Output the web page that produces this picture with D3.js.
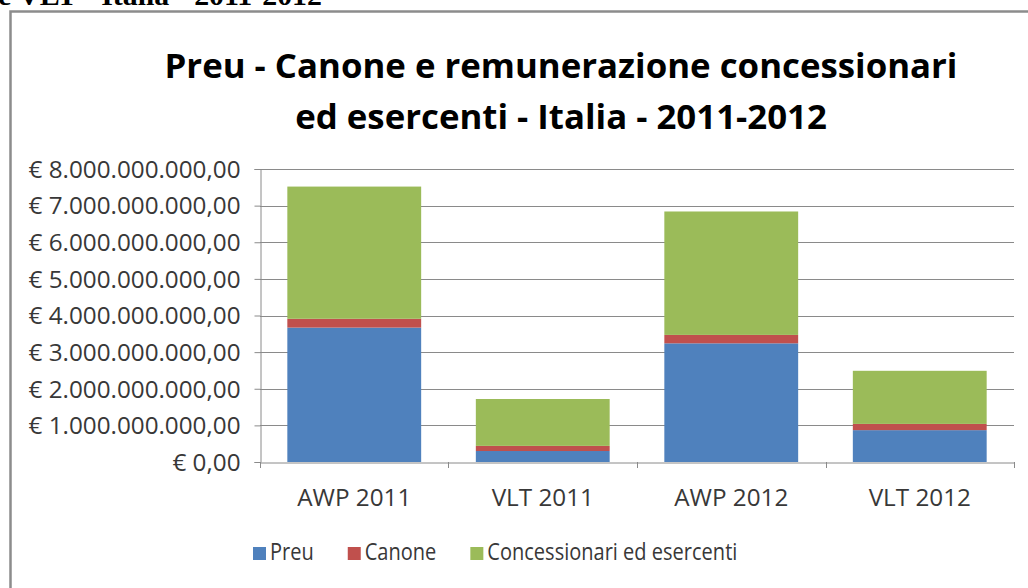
<!DOCTYPE html>
<html>
<head>
<meta charset="utf-8">
<script src="https://cdn.jsdelivr.net/npm/d3@7"></script>
<style>
  html, body { margin: 0; padding: 0; background: #fff; }
  svg { display: block; }
</style>
</head>
<body>
<div id="chart"></div>
<script>
// Stacked columns: Preu, canone and remuneration of concessionaires and operators
const categories = ["AWP 2011", "VLT 2011", "AWP 2012", "VLT 2012"];
const seriesNames = ["Preu", "Canone", "Concessionari ed esercenti"];
const preu = [3.67e9, 0.30e9, 3.24e9, 0.87e9];
const canone = [0.24e9, 0.14e9, 0.23e9, 0.17e9];
const concessionari = [3.61e9, 1.28e9, 3.37e9, 1.45e9];
const yTicks = [0, 1e9, 2e9, 3e9, 4e9, 5e9, 6e9, 7e9, 8e9];
const titleLines = ["Preu - Canone e remunerazione concessionari", "ed esercenti - Italia - 2011-2012"];
const headerText = "e VLT - Italia - 2011-2012";
const colors = ["#4F81BD", "#C0504D", "#9BBB59"];

const W = 1028, H = 588;
const plot = { left: 260, right: 1014, top: 169, bottom: 462 };
const uiFont = "'Open Sans', 'Noto Sans', sans-serif";

const svg = d3.select("#chart").append("svg")
  .attr("width", W).attr("height", H);

svg.append("rect").attr("width", W).attr("height", H).attr("fill", "#fff");

// Document heading above the chart object, clipped at the top edge
svg.append("text")
  .attr("x", -2).attr("y", 5)
  .attr("font-family", "'Liberation Serif', 'DejaVu Serif', serif")
  .attr("font-weight", "bold").attr("font-size", 27)
  .attr("fill", "#000")
  .attr("textLength", 324).attr("lengthAdjust", "spacingAndGlyphs")
  .text(headerText);

// Chart area frame
svg.append("rect")
  .attr("x", 10.5).attr("y", 11.5)
  .attr("width", W + 20).attr("height", H + 20)
  .attr("fill", "#fff").attr("stroke", "#8c8c8c").attr("stroke-width", 2.5);

// Scales
const x = d3.scaleBand().domain(categories)
  .range([plot.left, plot.right])
  .paddingInner(0.29).paddingOuter(0.145);
const y = d3.scaleLinear().domain([0, 8e9]).range([plot.bottom, plot.top]);

const it = d3.formatLocale({ decimal: ",", thousands: ".", grouping: [3], currency: ["€ ", ""] });
const fmt = it.format("$,.2f");

// Horizontal squeeze so the fallback face occupies the same width as the narrow original face
function squeeze(sel, k) {
  sel.each(function () {
    const len = this.getComputedTextLength();
    d3.select(this).attr("textLength", len * k).attr("lengthAdjust", "spacingAndGlyphs");
  });
}

// Gridlines
svg.append("g").selectAll("line").data(yTicks.slice(1)).join("line")
  .attr("x1", plot.left).attr("x2", plot.right)
  .attr("y1", d => Math.round(y(d)) + 0.5).attr("y2", d => Math.round(y(d)) + 0.5)
  .attr("stroke", "#8a8a8a").attr("stroke-width", 1);

// Stacked bars
const table = categories.map((c, i) => ({
  cat: c,
  [seriesNames[0]]: preu[i],
  [seriesNames[1]]: canone[i],
  [seriesNames[2]]: concessionari[i]
}));
const stacked = d3.stack().keys(seriesNames)(table);

svg.append("g").selectAll("g").data(stacked).join("g")
  .attr("fill", (d, i) => colors[i])
  .selectAll("rect").data(d => d).join("rect")
  .attr("x", d => x(d.data.cat))
  .attr("width", x.bandwidth())
  .attr("y", d => y(d[1]))
  .attr("height", d => y(d[0]) - y(d[1]));

// Y axis
const yAxis = svg.append("g")
  .attr("transform", `translate(${plot.left + 0.5},0)`)
  .call(d3.axisLeft(y).tickValues(yTicks).tickFormat(fmt).tickSize(6).tickPadding(14));
yAxis.select(".domain").attr("stroke", "#8a8a8a");
yAxis.selectAll(".tick line").attr("stroke", "#8a8a8a");
yAxis.selectAll(".tick text")
  .attr("font-family", uiFont).attr("font-size", 23).attr("fill", "#383838")
  .attr("dy", "0.36em");

// X axis
const xAxis = svg.append("g")
  .attr("transform", `translate(0,${plot.bottom + 0.5})`)
  .call(d3.axisBottom(x).tickSize(0).tickPadding(27));
xAxis.select(".domain").attr("stroke", "#8a8a8a");
xAxis.selectAll(".tick text")
  .attr("font-family", uiFont).attr("font-size", 23).attr("fill", "#383838");

// Category boundary ticks
const bounds = [plot.left, ...categories.map(c => x(c) + x.bandwidth() + x.step() * x.paddingInner() / 2)];
bounds[bounds.length - 1] = plot.right;
svg.append("g").selectAll("line").data(bounds).join("line")
  .attr("x1", d => Math.round(d) + 0.5).attr("x2", d => Math.round(d) + 0.5)
  .attr("y1", plot.bottom).attr("y2", plot.bottom + 6)
  .attr("stroke", "#8a8a8a");

// Width factor from the longest tick label
const longest = yAxis.selectAll(".tick text").nodes()
  .reduce((a, n) => Math.max(a, n.getComputedTextLength()), 0);
const k = 212 / longest;
squeeze(yAxis.selectAll(".tick text"), k);
squeeze(xAxis.selectAll(".tick text"), k);

// Title
const title = svg.append("g");
title.selectAll("text").data(titleLines).join("text")
  .attr("x", 561).attr("y", (d, i) => 78 + i * 51)
  .attr("text-anchor", "middle")
  .attr("font-family", uiFont).attr("font-weight", "bold").attr("font-size", 34)
  .attr("fill", "#000")
  .text(d => d);
const tNodes = title.selectAll("text").nodes();
const kt = 793 / tNodes[0].getComputedTextLength();
squeeze(title.selectAll("text"), kt);

// Legend
const legend = svg.append("g");
const probe = legend.append("text")
  .attr("font-family", uiFont).attr("font-size", 23)
  .text(seriesNames[2]);
const kl = 250 / probe.node().getComputedTextLength();
probe.remove();
let lx = 253;
seriesNames.forEach((name, i) => {
  legend.append("rect")
    .attr("x", lx).attr("y", 547).attr("width", 13).attr("height", 13)
    .attr("fill", colors[i]);
  const t = legend.append("text")
    .attr("x", lx + 17).attr("y", 560)
    .attr("font-family", uiFont).attr("font-size", 23).attr("fill", "#383838")
    .text(name);
  const w = t.node().getComputedTextLength() * kl;
  squeeze(t, kl);
  lx += 17 + w + 34;
});
</script>
</body>
</html>
